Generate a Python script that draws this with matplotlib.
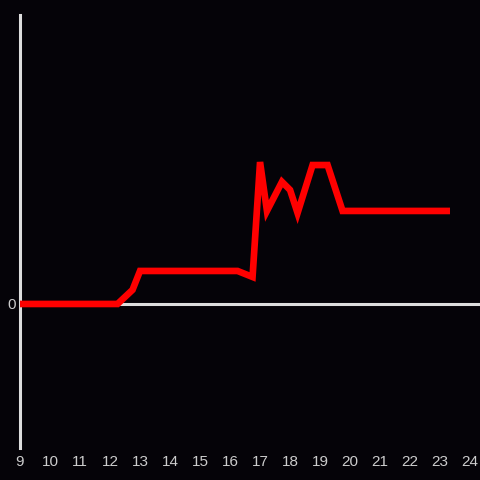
import matplotlib
matplotlib.use("Agg")
import matplotlib.pyplot as plt

# data
hours = [9.0, 12.25, 12.75, 13.0, 16.25, 16.75, 17.0, 17.23, 17.73, 18.0,
         18.25, 18.75, 19.25, 19.75, 23.33]
values = [0.0, 0.0, 0.47, 1.1, 1.1, 0.9, 4.73, 3.1, 4.07, 3.8,
          3.03, 4.63, 4.63, 3.1, 3.1]
xticks = list(range(9, 25))

bg = "#050308"
axis_col = "#dddddd"

fig = plt.figure(figsize=(4.8, 4.8), dpi=100, facecolor=bg)
ax = fig.add_axes([20 / 480, 32 / 480, 460 / 480, 433 / 480], facecolor=bg)

ax.plot(hours, values, color="#ff0000", lw=4.8, solid_joinstyle="miter",
        solid_capstyle="butt", zorder=3)
ax.axhline(0, color=axis_col, lw=2.2, zorder=2)

ax.set_xlim(9, 24.33)
ax.set_ylim(-4.8, 9.63)

for s in ["top", "right", "bottom"]:
    ax.spines[s].set_visible(False)
ax.spines["left"].set_color(axis_col)
ax.spines["left"].set_linewidth(2.2)

ax.set_xticks(xticks)
ax.set_xticklabels([str(t) for t in xticks])
ax.set_yticks([0])
ax.set_yticklabels(["0"])
ax.tick_params(axis="both", length=0, colors="#cccccc", labelsize=11,
               labelfontfamily="Liberation Sans")
ax.tick_params(axis="x", pad=5)
ax.tick_params(axis="y", pad=3)

fig.savefig("out.png", dpi=100, facecolor=bg)
